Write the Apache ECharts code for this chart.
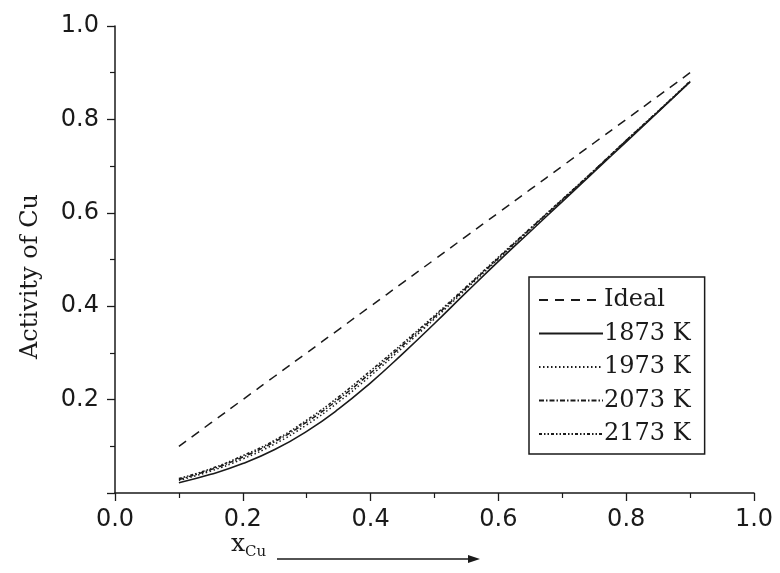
<!DOCTYPE html>
<html>
<head>
<meta charset="utf-8">
<script src="https://cdn.jsdelivr.net/npm/echarts@6/dist/echarts.min.js"></script>
<style>
  html, body { margin: 0; padding: 0; background: #fff; }
  #chart { width: 780px; height: 573px; }
</style>
</head>
<body>
<div id="chart"></div>
<script>
// Mole fraction of Cu
const xCu = [0.10, 0.15, 0.20, 0.25, 0.30, 0.35, 0.40, 0.45, 0.50, 0.55, 0.60, 0.65, 0.70, 0.75, 0.80, 0.85, 0.90];

// Raoultian (ideal) activity
const ideal = [0.10, 0.15, 0.20, 0.25, 0.30, 0.35, 0.40, 0.45, 0.50, 0.55, 0.60, 0.65, 0.70, 0.75, 0.80, 0.85, 0.90];

// Calculated activity of Cu at each temperature
const a1873 = [0.022, 0.040, 0.063, 0.093, 0.132, 0.180, 0.236, 0.298, 0.363, 0.430, 0.496, 0.560, 0.624, 0.688, 0.752, 0.816, 0.880];
const a1973 = [0.027, 0.047, 0.073, 0.105, 0.146, 0.195, 0.251, 0.311, 0.373, 0.437, 0.501, 0.564, 0.627, 0.690, 0.754, 0.817, 0.881];
const a2073 = [0.029, 0.050, 0.077, 0.110, 0.152, 0.201, 0.257, 0.316, 0.377, 0.440, 0.503, 0.566, 0.628, 0.691, 0.755, 0.817, 0.881];
const a2173 = [0.031, 0.052, 0.080, 0.113, 0.156, 0.206, 0.262, 0.320, 0.380, 0.442, 0.505, 0.567, 0.629, 0.691, 0.755, 0.818, 0.882];

const seriesNames = ['Ideal', '1873 K', '1973 K', '2073 K', '2173 K'];
const seriesValues = [ideal, a1873, a1973, a2073, a2173];
const dashes = [[9, 7], 'solid', [1.5, 2.5], [5, 2, 1.5, 2], [3, 2, 1.5, 2, 1.5, 2]];

const axisTicks = [0.0, 0.2, 0.4, 0.6, 0.8, 1.0];

const ink = '#1a1a1a';
const sans = 'DejaVu Sans';
const serif = 'DejaVu Serif';

const chart = echarts.init(document.getElementById('chart'), null, { renderer: 'canvas' });

const series = seriesNames.map((name, i) => ({
  name: name,
  type: 'line',
  smooth: true,
  symbol: 'none',
  data: xCu.map((x, j) => [x, seriesValues[i][j]]),
  lineStyle: { color: ink, width: i === 1 ? 1.6 : 1.5, type: dashes[i] },
  itemStyle: { color: ink },
  z: 5 - i
}));

const axisCommon = {
  min: axisTicks[0],
  max: axisTicks[axisTicks.length - 1],
  interval: 0.2,
  axisLine: { show: true, onZero: false, lineStyle: { color: ink, width: 1.5 } },
  axisTick: { show: true, inside: false, length: 8, lineStyle: { color: ink, width: 1.3 } },
  minorTick: { show: true, splitNumber: 2, length: 5, lineStyle: { color: ink, width: 1.2 } },
  splitLine: { show: false },
  minorSplitLine: { show: false }
};

chart.setOption({
  backgroundColor: '#ffffff',
  animation: false,
  grid: { left: 115, right: 26, top: 26, bottom: 80, containLabel: false },
  xAxis: Object.assign({}, axisCommon, {
    type: 'value',
    axisLabel: {
      margin: 15,
      color: ink,
      fontFamily: sans,
      fontSize: 24,
      formatter: v => v.toFixed(1)
    }
  }),
  yAxis: Object.assign({}, axisCommon, {
    type: 'value',
    name: 'Activity of Cu',
    nameLocation: 'middle',
    nameGap: 72,
    nameRotate: 90,
    nameTextStyle: {
      color: ink,
      fontFamily: serif,
      fontSize: 24,
      padding: [0, 34, 0, 0]
    },
    axisLabel: {
      margin: 16,
      color: ink,
      fontFamily: sans,
      fontSize: 24,
      formatter: v => (v === 0 ? '' : v.toFixed(1))
    }
  }),
  legend: {
    orient: 'vertical',
    left: 529,
    top: 277,
    padding: [10, 14, 7, 9],
    itemWidth: 64,
    itemHeight: 14,
    itemGap: 7.5,
    borderColor: ink,
    borderWidth: 1.5,
    borderRadius: 0,
    backgroundColor: '#ffffff',
    selectedMode: false,
    itemStyle: { opacity: 0 },
    textStyle: { color: ink, fontFamily: serif, fontSize: 24, lineHeight: 26, padding: [0, 0, 0, -4] },
    data: seriesNames
  },
  graphic: [
    {
      type: 'text',
      left: 231,
      top: 532,
      style: {
        text: 'x{sub|Cu}',
        fill: ink,
        font: '25px "DejaVu Serif"',
        rich: {
          sub: { fontFamily: serif, fontSize: 15, fill: ink, padding: [15, 0, 0, 0] }
        }
      }
    },
    {
      type: 'line',
      shape: { x1: 277, y1: 559, x2: 472, y2: 559 },
      style: { stroke: ink, lineWidth: 1.3 }
    },
    {
      type: 'polygon',
      shape: { points: [[480, 559], [468, 555], [468, 563]] },
      style: { fill: ink }
    }
  ],
  series: series
});
</script>
</body>
</html>
